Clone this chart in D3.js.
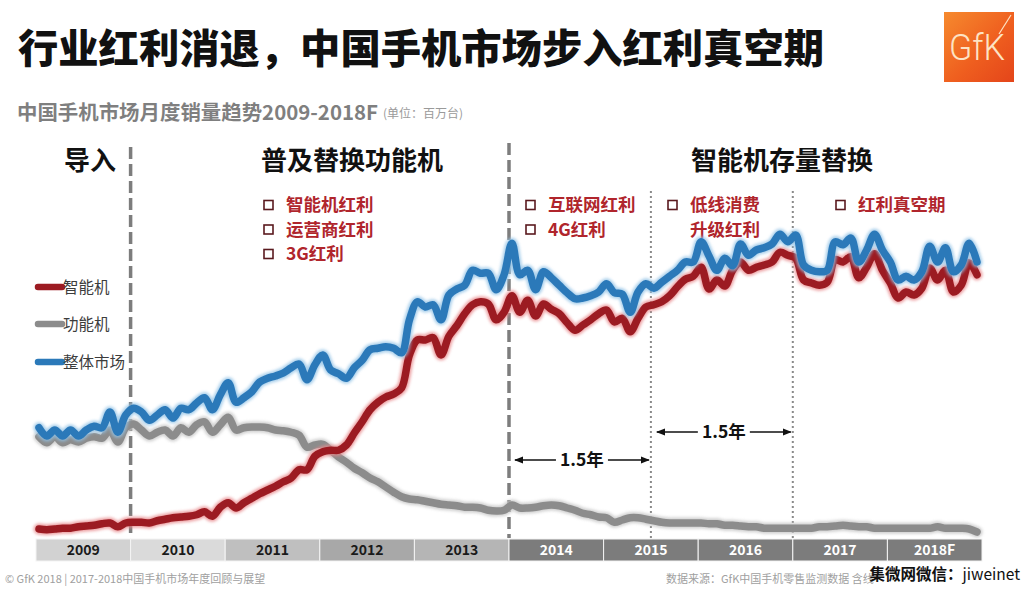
<!DOCTYPE html>
<html>
<head>
<meta charset="utf-8">
<script src="https://cdn.jsdelivr.net/npm/d3@7"></script>
<style>
  body { margin: 0; background: #fff; }
  svg { display: block; font-family: "Noto Sans CJK SC", "Noto Sans", sans-serif; }
</style>
</head>
<body>
<svg id="chart" width="1024" height="591"></svg>
<script>
// monthly sales, million units, Jan 2009 - Dec 2018
const smartphone = [
  0.8, 0.7, 0.8, 0.9, 0.9, 1.1, 1.2, 1.3, 1.5, 1.6, 1.1, 1.6,
  1.7, 1.7, 1.6, 1.9, 2.1, 2.3, 2.4, 2.5, 2.7, 3.1, 2.5, 3.7,
  4.3, 3.6, 4.3, 4.9, 5.5, 6.0, 6.5, 7.1, 7.6, 8.7, 8.7, 10.5,
  11.1, 11.3, 11.3, 12.0, 13.6, 15.1, 16.7, 17.7, 18.4, 18.8, 19.6, 24.0,
  26.0, 26.0, 26.3, 24.0, 26.5, 27.9, 29.5, 30.7, 31.1, 30.8, 28.7, 29.7,
  31.9, 29.7, 31.3, 29.2, 30.8, 30.1, 29.5, 28.3, 27.3, 28.0, 28.7, 29.5,
  30.0, 28.4, 28.9, 27.1, 28.9, 30.4, 30.7, 31.1, 31.9, 33.1, 34.1, 34.5,
  35.7, 32.8, 34.0, 33.2, 35.3, 36.4, 35.3, 35.7, 36.0, 36.4, 37.7, 37.3,
  36.9, 34.0, 33.6, 33.3, 33.7, 36.7, 36.4, 37.1, 34.3, 35.7, 37.5, 35.3,
  33.6, 31.6, 32.4, 32.0, 32.9, 35.6, 34.0, 35.3, 32.4, 33.3, 36.3, 34.7
];
const featurePhone = [
  13.1, 12.3, 13.1, 12.3, 12.7, 12.4, 12.9, 13.1, 12.9, 14.0, 12.4, 14.3,
  14.8, 14.0, 13.2, 13.7, 14.0, 13.2, 14.3, 13.7, 14.7, 15.1, 13.7, 14.7,
  15.7, 14.0, 14.3, 14.4, 14.4, 14.3, 14.0, 13.9, 13.7, 13.3, 11.7, 12.0,
  12.1, 11.3, 10.4, 9.7, 8.9, 8.3, 7.6, 7.1, 6.4, 5.7, 5.1, 4.8,
  4.7, 4.5, 4.3, 4.1, 4.0, 3.9, 3.7, 3.7, 3.6, 3.3, 3.2, 3.3,
  4.0, 3.6, 3.6, 3.7, 3.9, 4.0, 3.9, 3.6, 3.3, 2.9, 2.7, 2.4,
  2.3, 1.7, 2.0, 2.3, 2.3, 2.1, 1.9, 1.7, 1.6, 1.6, 1.6, 1.6,
  1.6, 1.5, 1.5, 1.3, 1.3, 1.2, 1.1, 1.1, 0.9, 0.9, 0.9, 0.9,
  0.9, 0.9, 0.9, 1.1, 1.1, 1.2, 1.3, 1.2, 1.1, 1.1, 0.9, 0.9,
  0.9, 0.9, 0.9, 0.9, 0.9, 0.9, 1.1, 0.9, 0.9, 0.9, 0.8, 0.4
];
const totalMarket = [
  14.3, 13.2, 14.0, 13.2, 14.0, 13.2, 14.0, 14.5, 14.3, 16.4, 13.7, 16.0,
  16.9, 16.4, 15.3, 16.0, 16.7, 15.6, 16.9, 16.7, 17.6, 18.3, 16.7, 18.7,
  20.3, 17.7, 18.3, 19.1, 20.4, 20.9, 21.2, 21.6, 22.3, 22.8, 20.7, 22.7,
  24.0, 22.0, 21.5, 20.9, 22.3, 23.3, 24.7, 24.9, 25.1, 24.9, 24.3, 28.7,
  31.1, 30.4, 30.7, 28.7, 32.0, 32.8, 33.3, 35.3, 34.9, 34.9, 32.7, 34.7,
  38.9, 34.7, 35.3, 32.7, 35.1, 34.3, 33.3, 32.3, 31.5, 31.6, 31.9, 32.4,
  33.5, 32.3, 32.1, 29.7, 32.4, 33.5, 32.9, 33.7, 34.5, 35.3, 36.4, 36.4,
  39.1, 37.2, 35.3, 36.9, 35.9, 38.8, 37.3, 38.0, 38.3, 38.8, 40.1, 39.1,
  40.0, 36.0, 35.3, 35.1, 35.3, 39.1, 38.7, 39.6, 36.4, 38.0, 40.1, 38.0,
  36.4, 34.0, 34.5, 34.0, 35.1, 38.5, 36.4, 38.3, 35.1, 36.0, 38.9, 36.4
];

const years = ['2009', '2010', '2011', '2012', '2013', '2014', '2015', '2016', '2017', '2018F'];
const yearFill = ['#d2d2d2', '#dadada', '#bfbfbf', '#a8a8a8', '#b5b5b5', '#7c7c7c', '#7c7c7c', '#7c7c7c', '#7c7c7c', '#7c7c7c'];

const seriesNames = ['智能机', '功能机', '整体市场'];
const seriesColors = ['#9c1b22', '#8c8c8c', '#2b79b9'];

const phases = ['导入', '普及替换功能机', '智能机存量替换'];

const bonusNotes = [
  ['智能机红利', '运营商红利', '3G红利'],
  ['互联网红利', '4G红利'],
  ['低线消费', '升级红利'],
  ['红利真空期']
];

const svg = d3.select('#chart');

const x = d3.scaleLinear().domain([0, smartphone.length - 1]).range([39, 977]);
const y = d3.scaleLinear().domain([0, 40]).range([535, 235]);
const band = d3.scaleBand().domain(years).range([36, 982]).padding(0);
const yearX = (t) => band.range()[0] + t * band.step();

const defs = svg.append('defs');
const glow = defs.append('filter').attr('id', 'glow')
  .attr('x', '-5%').attr('y', '-20%').attr('width', '110%').attr('height', '140%');
glow.append('feGaussianBlur').attr('stdDeviation', 1.6);

const grad = defs.append('linearGradient').attr('id', 'logoGrad')
  .attr('x1', 0).attr('y1', 0).attr('x2', 1).attr('y2', 1);
grad.append('stop').attr('offset', '0%').attr('stop-color', '#f68a2e');
grad.append('stop').attr('offset', '55%').attr('stop-color', '#ef5f1f');
grad.append('stop').attr('offset', '100%').attr('stop-color', '#e4451a');

defs.append('marker').attr('id', 'arrow')
  .attr('viewBox', '0 0 10 10').attr('refX', 9).attr('refY', 5)
  .attr('markerWidth', 7).attr('markerHeight', 7).attr('orient', 'auto-start-reverse')
  .append('path').attr('d', 'M0,1 L10,5 L0,9 Z').attr('fill', '#111');

// Title
svg.append('text')
  .attr('x', 18).attr('y', 63)
  .attr('font-size', 40).attr('font-weight', 900).attr('fill', '#111')
  .attr('textLength', 806).attr('lengthAdjust', 'spacingAndGlyphs')
  .text('行业红利消退，中国手机市场步入红利真空期');

// GfK logo
const logo = svg.append('g');
logo.append('rect').attr('x', 944).attr('y', 12).attr('width', 70).attr('height', 70)
  .attr('fill', 'url(#logoGrad)');
logo.append('text').attr('x', 977).attr('y', 60).attr('text-anchor', 'middle')
  .attr('font-family', 'Roboto, sans-serif').attr('font-weight', 300)
  .attr('font-size', 36).attr('fill', '#fde3c4')
  .attr('textLength', 56).attr('lengthAdjust', 'spacingAndGlyphs')
  .text('GfK');
logo.append('line').attr('x1', 999).attr('y1', 34).attr('x2', 1011).attr('y2', 15)
  .attr('stroke', '#fde3c4').attr('stroke-width', 1.2);

// Subtitle
svg.append('text').attr('x', 17).attr('y', 120)
  .attr('font-size', 20).attr('font-weight', 700).attr('fill', '#7f7f7f')
  .attr('textLength', 361).attr('lengthAdjust', 'spacingAndGlyphs')
  .text('中国手机市场月度销量趋势2009-2018F');
svg.append('text').attr('x', 383).attr('y', 118)
  .attr('font-size', 12).attr('fill', '#9a9a9a')
  .text('(单位：百万台)');

// Phase labels
const phaseX = [90, 352, 782];
svg.selectAll('.phase')
  .data(phases)
  .enter()
  .append('text')
  .attr('class', 'phase')
  .attr('x', (d, i) => phaseX[i])
  .attr('y', 170)
  .attr('text-anchor', 'middle')
  .attr('font-size', 26).attr('font-weight', 700).attr('fill', '#111')
  .text((d) => d);

// Phase dividers (dashed) and sub-phase dividers (dotted)
[1, 5].forEach((t, i) => {
  svg.append('line')
    .attr('x1', yearX(t)).attr('x2', yearX(t))
    .attr('y1', i === 0 ? 147 : 143).attr('y2', 538)
    .attr('stroke', '#7d7d7d').attr('stroke-width', 3.5)
    .attr('stroke-dasharray', '12,5');
});
[6.5, 8].forEach((t) => {
  svg.append('line')
    .attr('x1', yearX(t)).attr('x2', yearX(t))
    .attr('y1', 191).attr('y2', 538)
    .attr('stroke', '#8a8a8a').attr('stroke-width', 2)
    .attr('stroke-dasharray', '2,3');
});

// Bonus notes
const noteX = [264, 526, 668, 836];
bonusNotes.forEach((lines, k) => {
  const bx = noteX[k];
  lines.forEach((txt, j) => {
    const cy = 205 + j * 24.5;
    if (!(k === 2 && j > 0)) {
      svg.append('rect').attr('x', bx).attr('y', cy - 4.5)
        .attr('width', 9).attr('height', 9)
        .attr('fill', 'none').attr('stroke', '#5a1a1e').attr('stroke-width', 1.6);
    }
    svg.append('text').attr('x', bx + 22).attr('y', cy + 6)
      .attr('font-size', 17.5).attr('font-weight', 700).attr('fill', '#b0252c')
      .text(txt);
  });
});

// Lines: gray, red, blue
const line = d3.line()
  .x((d, i) => x(i))
  .y((d) => y(d))
  .curve(d3.curveCatmullRom.alpha(0.5));

const series = [
  { values: featurePhone, color: seriesColors[1], halo: '#c4c4c4' },
  { values: smartphone, color: seriesColors[0], halo: '#e8898c' },
  { values: totalMarket, color: seriesColors[2], halo: '#93c3e6' }
];

series.forEach((s) => {
  svg.append('path').datum(s.values)
    .attr('d', line)
    .attr('fill', 'none').attr('stroke', s.halo).attr('stroke-width', 11)
    .attr('stroke-linejoin', 'round').attr('stroke-linecap', 'round')
    .attr('filter', 'url(#glow)').attr('opacity', 0.8);
  svg.append('path').datum(s.values)
    .attr('d', line)
    .attr('fill', 'none').attr('stroke', s.color).attr('stroke-width', 7.5)
    .attr('stroke-linejoin', 'round').attr('stroke-linecap', 'round');
});

// Legend
const legendY = [287, 324, 362];
const legendOrder = [0, 1, 2];
legendOrder.forEach((i) => {
  svg.append('line').attr('x1', 38).attr('x2', 62).attr('y1', legendY[i]).attr('y2', legendY[i])
    .attr('stroke', seriesColors[i]).attr('stroke-width', 6.5).attr('stroke-linecap', 'round');
  svg.append('text').attr('x', 63).attr('y', legendY[i] + 6)
    .attr('font-size', 15.5).attr('fill', '#3c3c3c')
    .text(seriesNames[i]);
});

// 1.5 year spans
const spans = [
  { from: 5, to: 6.5, y: 460, label: '1.5年' },
  { from: 6.5, to: 8, y: 432, label: '1.5年' }
];
spans.forEach((s) => {
  const x0 = yearX(s.from) + 6;
  const x1 = yearX(s.to) - 2;
  const mid = (x0 + x1) / 2;
  svg.append('line').attr('x1', mid - 26).attr('x2', x0).attr('y1', s.y).attr('y2', s.y)
    .attr('stroke', '#111').attr('stroke-width', 1.3).attr('marker-end', 'url(#arrow)');
  svg.append('line').attr('x1', mid + 26).attr('x2', x1).attr('y1', s.y).attr('y2', s.y)
    .attr('stroke', '#111').attr('stroke-width', 1.3).attr('marker-end', 'url(#arrow)');
  svg.append('text').attr('x', mid).attr('y', s.y + 6).attr('text-anchor', 'middle')
    .attr('font-size', 17.5).attr('font-weight', 700).attr('fill', '#111')
    .text(s.label);
});

// Year bar
const yearBar = svg.append('g');
yearBar.selectAll('rect')
  .data(years)
  .enter()
  .append('rect')
  .attr('x', (d) => band(d))
  .attr('y', 539)
  .attr('width', band.bandwidth())
  .attr('height', 22)
  .attr('fill', (d, i) => yearFill[i])
  .attr('stroke', '#f4f4f4').attr('stroke-width', 1);
yearBar.selectAll('text')
  .data(years)
  .enter()
  .append('text')
  .attr('x', (d) => band(d) + band.bandwidth() / 2)
  .attr('y', 555)
  .attr('text-anchor', 'middle')
  .attr('font-size', 14).attr('font-weight', 700)
  .attr('fill', (d, i) => (i < 5 ? '#1a1a1a' : '#ffffff'))
  .text((d) => d);

// Footer
svg.append('text').attr('x', 5).attr('y', 583)
  .attr('font-size', 11).attr('fill', '#a0a0a0')
  .text('© GfK 2018 | 2017-2018中国手机市场年度回顾与展望');
svg.append('text').attr('x', 666).attr('y', 583)
  .attr('font-size', 11).attr('fill', '#a0a0a0')
  .text('数据来源：GfK中国手机零售监测数据  含线');
const mark = svg.append('text').attr('x', 1020).attr('y', 580).attr('text-anchor', 'end')
  .attr('font-size', 15.5).attr('fill', '#111');
mark.append('tspan').attr('font-weight', 700).text('集微网微信：');
mark.append('tspan').text('jiweinet');
</script>
</body>
</html>
